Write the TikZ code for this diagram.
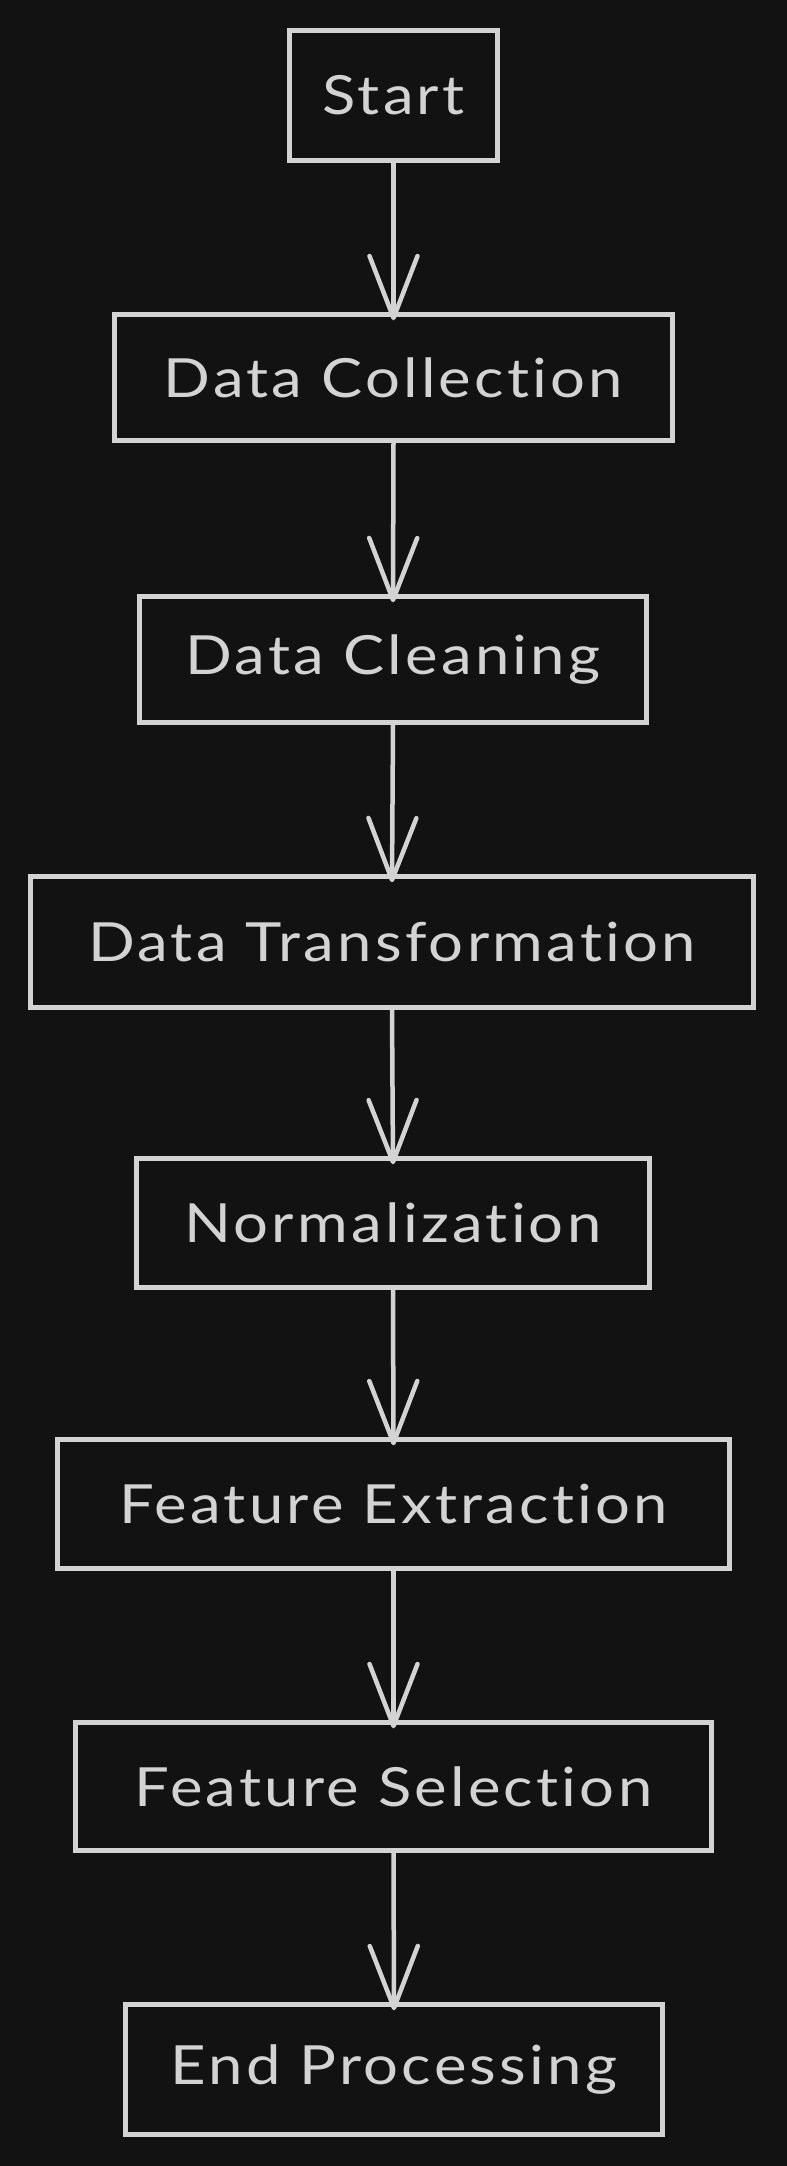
\documentclass[tikz,border=0pt]{standalone}
\usepackage{fontspec}
\setmainfont{Lato}[Ligatures=NoCommon, FakeStretch=1.14, LetterSpace=6]
\usetikzlibrary{arrows.meta}
\definecolor{bg}{HTML}{121212}
\definecolor{fg}{HTML}{D3D3D3}
\tikzset{
  box/.style={draw=fg, line width=4.5pt, text=fg, inner sep=0pt, font=\fontsize{54}{60}\selectfont},
  flow/.style={draw=fg, line width=4.5pt, line cap=round,
    -{Straight Barb[length=62pt, width=48pt, line width=4.5pt, round]}}
}
\begin{document}
\begin{tikzpicture}[x=1pt,y=-1pt]
\fill[bg] (0,0) rectangle (787,2166);
\useasboundingbox (0,0) rectangle (787,2166);
\node[box, minimum width=208pt, minimum height=130pt] (n1) at (393.5,95.5) {Start};
\node[box, minimum width=558pt, minimum height=126pt] (n2) at (393.5,377.5) {Data Collection};
\node[box, minimum width=507pt, minimum height=126pt] (n3) at (393,659.5) {Data Cleaning};
\node[box, minimum width=723pt, minimum height=131pt] (n4) at (392,942) {Data Transformation};
\node[box, minimum width=513pt, minimum height=129pt] (n5) at (393,1223) {Normalization};
\node[box, minimum width=672pt, minimum height=129pt] (n6) at (393.5,1504) {Feature Extraction};
\node[box, minimum width=636pt, minimum height=128pt] (n7) at (393.5,1786.5) {Feature Selection};
\node[box, minimum width=537pt, minimum height=130pt] (n8) at (394,2069.5) {End Processing};
\foreach \a/\b in {n1/n2,n2/n3,n3/n4,n4/n5,n5/n6,n6/n7,n7/n8}
  \draw[flow] (\a.south) -- ([yshift=-8pt]\b.north);
\end{tikzpicture}
\end{document}
